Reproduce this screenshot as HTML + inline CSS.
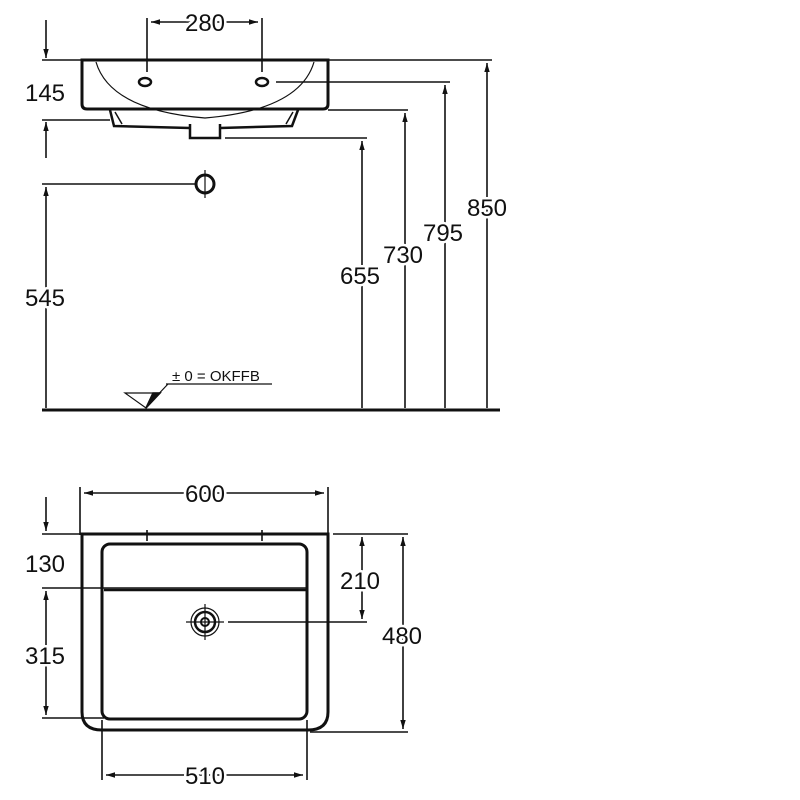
<!DOCTYPE html>
<html><head><style>body{margin:0;background:#fff}svg{display:block}text{font-family:"Liberation Sans",sans-serif;font-size:24px;fill:#111;stroke:#fff;stroke-width:5px;paint-order:stroke;stroke-linejoin:round}</style></head>
<body>
<svg width="800" height="800" viewBox="0 0 800 800" xmlns="http://www.w3.org/2000/svg">
<defs>
<marker id="a" viewBox="0 0 10 10" refX="10" refY="5" markerWidth="9" markerHeight="9" orient="auto-start-reverse" markerUnits="userSpaceOnUse"><path d="M0,2 L10,5 L0,8 z" fill="#111"/></marker>
</defs>
<g stroke="#111" stroke-width="1.6" fill="none">
<line x1="42" y1="60" x2="492" y2="60"/>
<path d="M82,60 H328 V104 Q328,109 323,109 H87 Q82,109 82,104 Z" stroke-width="3"/>
<path d="M96,62 Q110,110 205,118 Q300,110 314,62" stroke-width="1.2"/>
<ellipse cx="145" cy="82" rx="6" ry="4" stroke-width="2.5"/>
<ellipse cx="262" cy="82" rx="6" ry="4" stroke-width="2.5"/>
<line x1="147" y1="18" x2="147" y2="72"/>
<line x1="262" y1="18" x2="262" y2="72"/>
<line x1="151" y1="22" x2="258" y2="22" marker-start="url(#a)" marker-end="url(#a)"/>
<line x1="276" y1="82" x2="450" y2="82"/>
<line x1="328" y1="110" x2="408" y2="110"/>
<path d="M110,110 L114,126 L190,128 M220,128 L292,126 L298,110" stroke-width="2.5"/>
<path d="M115,112 L122,124 M293,112 L286,124" stroke-width="1.5"/>
<path d="M190,124 V138 H220 V124" stroke-width="2.5"/>
<line x1="225" y1="138" x2="367" y2="138"/>
<line x1="42" y1="120" x2="110" y2="120"/>
<line x1="46" y1="20" x2="46" y2="58" marker-end="url(#a)"/>
<line x1="46" y1="158" x2="46" y2="122" marker-end="url(#a)"/>
<circle cx="205" cy="184" r="9" stroke-width="3"/>
<line x1="42" y1="184" x2="196" y2="184"/>
<line x1="205" y1="170" x2="205" y2="198" stroke-width="1.2"/>
<line x1="46" y1="408" x2="46" y2="187" marker-end="url(#a)"/>
<line x1="42" y1="410" x2="500" y2="410" stroke-width="3"/>
<line x1="362" y1="408" x2="362" y2="141" marker-end="url(#a)"/>
<line x1="405" y1="408" x2="405" y2="113" marker-end="url(#a)"/>
<line x1="445" y1="408" x2="445" y2="85" marker-end="url(#a)"/>
<line x1="487" y1="408" x2="487" y2="63" marker-end="url(#a)"/>
<path d="M125,393 H160 L146,408 Z" stroke-width="1.2"/>
<path d="M146,408 L153,393 H160 Z" fill="#111"/>
<line x1="150" y1="403" x2="168" y2="384" stroke-width="1.2"/>
<line x1="166" y1="384" x2="272" y2="384" stroke-width="1.2"/>
<line x1="80" y1="487" x2="80" y2="535"/>
<line x1="328" y1="487" x2="328" y2="535"/>
<line x1="84" y1="493" x2="324" y2="493" marker-start="url(#a)" marker-end="url(#a)"/>
<line x1="42" y1="534" x2="328" y2="534"/>
<path d="M82,534 H328 V712 Q328,730 308,730 H102 Q82,730 82,712 Z" stroke-width="3"/>
<rect x="102" y="544" width="205" height="175" rx="8" stroke-width="3"/>
<line x1="147" y1="530" x2="147" y2="541"/>
<line x1="262" y1="530" x2="262" y2="541"/>
<line x1="42" y1="588" x2="307" y2="588"/>
<path d="M104,590 H306" stroke-width="2.5"/>
<line x1="42" y1="718" x2="104" y2="718"/>
<circle cx="205" cy="622" r="14" stroke-width="1.2"/>
<circle cx="205" cy="622" r="10" stroke-width="2.5"/>
<circle cx="205" cy="622" r="4" stroke-width="2"/>
<line x1="186" y1="622" x2="224" y2="622" stroke-width="1.2"/>
<line x1="205" y1="604" x2="205" y2="640" stroke-width="1.2"/>
<line x1="228" y1="622" x2="367" y2="622"/>
<line x1="333" y1="534" x2="408" y2="534"/>
<line x1="310" y1="732" x2="408" y2="732"/>
<line x1="362" y1="619" x2="362" y2="537" marker-start="url(#a)" marker-end="url(#a)"/>
<line x1="403" y1="729" x2="403" y2="537" marker-start="url(#a)" marker-end="url(#a)"/>
<line x1="46" y1="497" x2="46" y2="531" marker-end="url(#a)"/>
<line x1="46" y1="715" x2="46" y2="591" marker-start="url(#a)" marker-end="url(#a)"/>
<line x1="102" y1="720" x2="102" y2="780"/>
<line x1="307" y1="720" x2="307" y2="780"/>
<line x1="106" y1="775" x2="303" y2="775" marker-start="url(#a)" marker-end="url(#a)"/>
</g>
<text x="205" y="31" text-anchor="middle">280</text>
<text x="45" y="101" text-anchor="middle">145</text>
<text x="45" y="306" text-anchor="middle">545</text>
<text x="360" y="284" text-anchor="middle">655</text>
<text x="403" y="263" text-anchor="middle">730</text>
<text x="443" y="241" text-anchor="middle">795</text>
<text x="487" y="216" text-anchor="middle">850</text>
<text x="172" y="381" style="font-size:15px;stroke-width:0">± 0 = OKFFB</text>
<text x="205" y="502" text-anchor="middle">600</text>
<text x="45" y="572" text-anchor="middle">130</text>
<text x="360" y="589" text-anchor="middle">210</text>
<text x="402" y="644" text-anchor="middle">480</text>
<text x="45" y="664" text-anchor="middle">315</text>
<text x="205" y="784" text-anchor="middle">510</text>
</svg>
</body></html>
